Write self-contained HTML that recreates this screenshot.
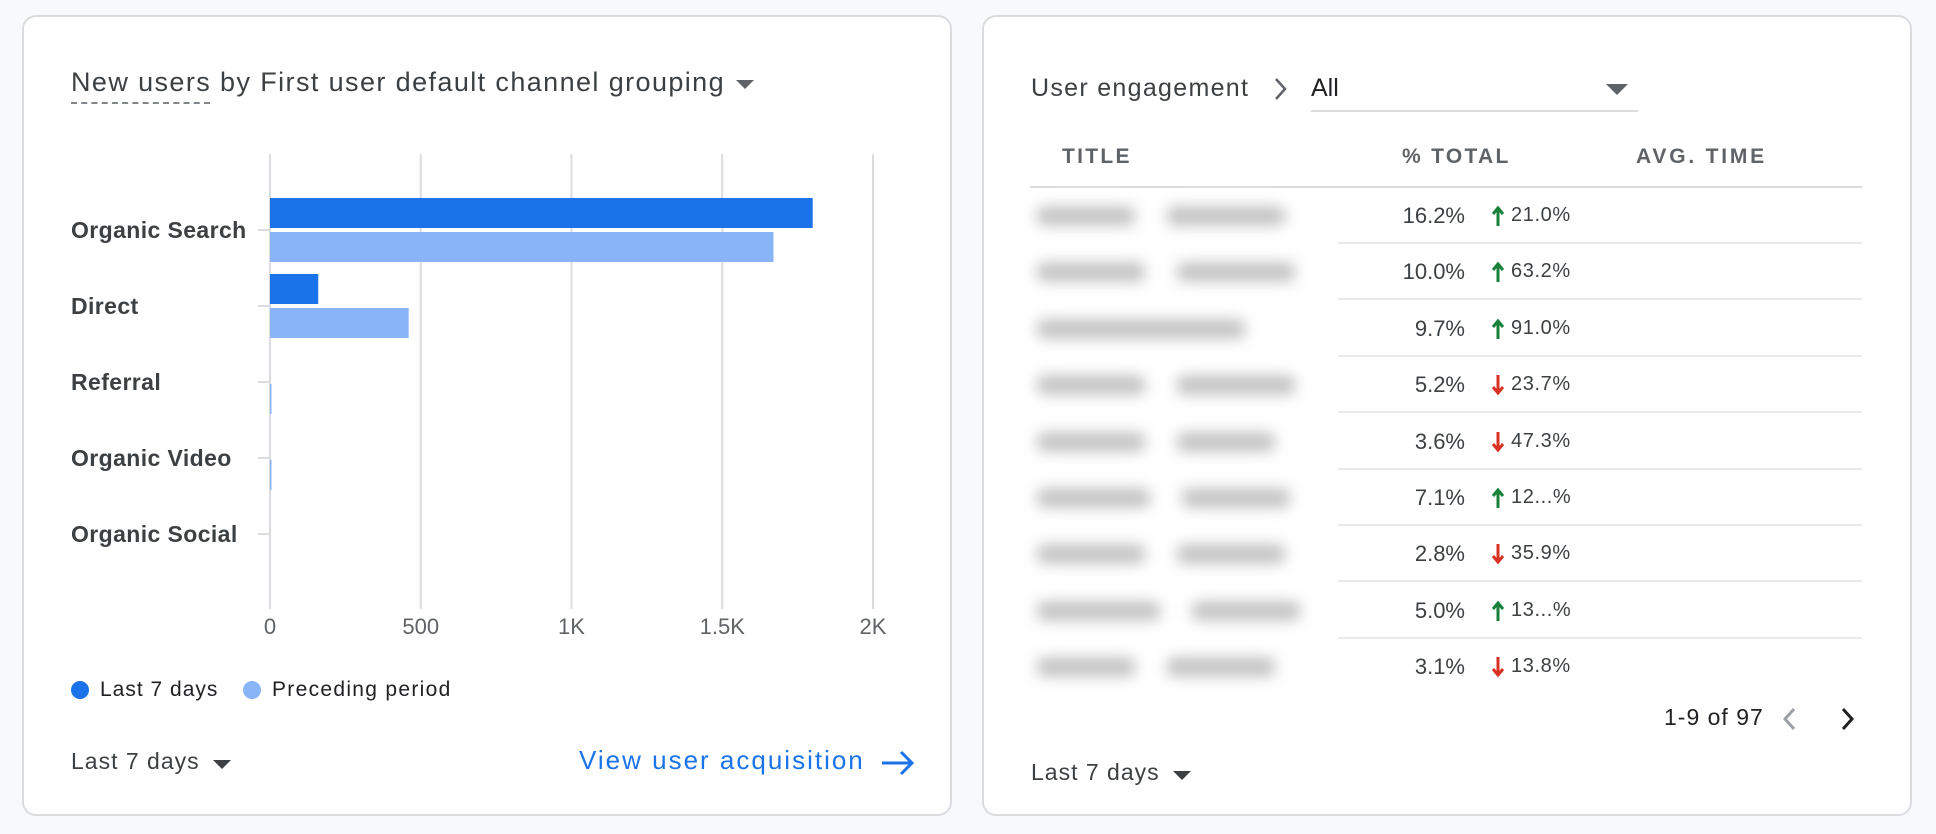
<!DOCTYPE html>
<html><head><meta charset="utf-8">
<style>
body{margin:0;width:1936px;height:834px;background:#f8f9fa;font-family:"Liberation Sans",sans-serif;position:relative;overflow:hidden;color:#3c4043}
.card{position:absolute;background:#fff;border:2px solid #dadce0;border-radius:14px;box-sizing:border-box}
.abs{position:absolute;white-space:nowrap}
.tri{position:absolute;width:0;height:0;border-left:9px solid transparent;border-right:9px solid transparent;border-top:9px solid #5f6368}
.blob{position:absolute;height:20px;background:#c4c4c4;filter:blur(7px);border-radius:10px}
.row-line{position:absolute;left:1338px;width:524px;height:2px;background:#e8eaed}
</style></head><body>
<div class="card" style="left:22px;top:15px;width:930px;height:801px"></div>
<div class="card" style="left:982px;top:15px;width:930px;height:801px"></div>

<div class="abs" style="left:71px;top:67px;font-size:27px;letter-spacing:1.4px;color:#3c4043">New users by First user default channel grouping</div>
<div class="abs" style="left:71px;top:102px;width:139px;border-top:2px dashed #80868b"></div>
<div class="tri" style="left:736px;top:80px;border-top-color:#5f6368"></div>

<svg id="chart" style="position:absolute;left:0;top:0" width="960" height="834"></svg>

<div class="abs" style="left:71px;top:678px;font-size:21px;letter-spacing:1px;color:#202124"><span style="display:inline-block;width:18px;height:18px;border-radius:50%;background:#1a73e8;vertical-align:-3px;margin-right:11px"></span>Last 7 days</div>
<div class="abs" style="left:243px;top:678px;font-size:21px;letter-spacing:1.3px;color:#202124"><span style="display:inline-block;width:18px;height:18px;border-radius:50%;background:#8ab4f8;vertical-align:-3px;margin-right:11px"></span>Preceding period</div>

<div class="abs" style="left:71px;top:748px;font-size:23px;letter-spacing:1px">Last 7 days</div>
<div class="tri" style="left:213px;top:760px;border-top-color:#3c4043"></div>
<div class="abs" style="left:579px;top:745px;font-size:26px;letter-spacing:2px;color:#1a73e8">View user acquisition</div>
<svg style="position:absolute;left:880px;top:749px" width="36" height="28"><path d="M2 14H32M21 3L32 14L21 25" stroke="#1a73e8" stroke-width="3" fill="none"/></svg>

<div class="abs" style="left:1031px;top:74px;font-size:25px;letter-spacing:1.3px">User engagement</div>
<svg style="position:absolute;left:1271px;top:76px" width="20" height="26"><path d="M5 3L14 13L5 23" stroke="#5f6368" stroke-width="2.5" fill="none"/></svg>
<div class="abs" style="left:1311px;top:74px;font-size:25px;color:#202124">All</div>
<div class="abs" style="left:1311px;top:110px;width:327px;height:2px;background:#dadce0"></div>
<div class="tri" style="left:1606px;top:84px;border-left-width:11px;border-right-width:11px;border-top-width:11px"></div>

<div class="abs" style="left:1062px;top:145px;font-size:21px;letter-spacing:2.3px;font-weight:bold;color:#5f6368">TITLE</div>
<div class="abs" style="left:1402px;top:145px;font-size:21px;letter-spacing:2.3px;font-weight:bold;color:#5f6368">% TOTAL</div>
<div class="abs" style="left:1636px;top:145px;font-size:21px;letter-spacing:2.8px;font-weight:bold;color:#5f6368">AVG. TIME</div>
<div class="abs" style="left:1030px;top:186px;width:832px;height:2px;background:#dadce0"></div>
<div id="rows"></div>

<div class="abs" style="left:1664px;top:704px;font-size:23px;letter-spacing:1px;color:#202124">1-9 of 97</div>
<svg style="position:absolute;left:1780px;top:705px" width="20" height="28"><path d="M14 4L5 14L14 24" stroke="#9aa0a6" stroke-width="3" fill="none"/></svg>
<svg style="position:absolute;left:1838px;top:705px" width="20" height="28"><path d="M5 4L14 14L5 24" stroke="#202124" stroke-width="3" fill="none"/></svg>
<div class="abs" style="left:1031px;top:759px;font-size:23px;letter-spacing:1px">Last 7 days</div>
<div class="tri" style="left:1173px;top:771px;border-top-color:#3c4043"></div>

<script>
const categories=["Organic Search","Direct","Referral","Organic Video","Organic Social"];
const last7=[1800,160,0,0,0];
const preceding=[1670,460,5,5,0];
const ticks=[0,500,1000,1500,2000];
const tickLabels=["0","500","1K","1.5K","2K"];
const NS="http://www.w3.org/2000/svg";
const svg=document.getElementById('chart');
const x0=270,x1=873,maxV=2000,yTop=154,yBot=609;
const xs=v=>x0+(x1-x0)*v/maxV;
const bandTop=192,band=76;
function mk(t,a){const e=document.createElementNS(NS,t);for(const k in a)e.setAttribute(k,a[k]);svg.appendChild(e);return e;}
ticks.forEach((t,i)=>{
  const l=mk('line',{x1:xs(t),x2:xs(t),y1:yTop,y2:yBot,stroke:'#dadce0','stroke-width':2});
  
  
  const tx=mk('text',{x:xs(t),y:634,'text-anchor':'middle','font-size':22,fill:'#5f6368','font-family':'Liberation Sans'});
  tx.textContent=tickLabels[i];
  
  
});
categories.forEach((c,i)=>{
  const cy=bandTop+band*i+38;
  const tm=mk('line',{x1:258,x2:270,y1:cy,y2:cy,stroke:'#dadce0','stroke-width':2});
  
  
  const t=mk('text',{x:71,y:cy+8,'font-size':23,'font-weight':'bold','letter-spacing':0.4,fill:'#3c4043','font-family':'Liberation Sans'});
  t.textContent=c;
  
  
  const b1=mk('rect',{x:x0,y:cy-32,width:Math.max(0,xs(last7[i])-x0),height:30,fill:'#1a73e8'});
  
  
  const b2=mk('rect',{x:x0,y:cy+2,width:Math.max(0,xs(preceding[i])-x0),height:30,fill:'#8ab4f8'});
  
  
});

const pct=["16.2%","10.0%","9.7%","5.2%","3.6%","7.1%","2.8%","5.0%","3.1%"];
const changes=["21.0%","63.2%","91.0%","23.7%","47.3%","12...%","35.9%","13...%","13.8%"];
const up=[true,true,true,false,false,true,false,true,false];
const blobW=[[100,120],[110,120],[210,0],[110,120],[110,100],[115,110],[110,110],[125,110],[100,110]];
const rows=document.getElementById('rows');
pct.forEach((p,i)=>{
  const cy=216+56.4*i;
  const b=blobW[i];
  const d1=document.createElement('div');d1.className='blob';
  
  
  d1.style.cssText=`left:1036px;top:${cy-10}px;width:${b[0]}px`;rows.appendChild(d1);
  if(b[1]){const d2=document.createElement('div');d2.className='blob';
  
  
  d2.style.cssText=`left:${1036+b[0]+30}px;top:${cy-10}px;width:${b[1]}px`;rows.appendChild(d2);}
  const v=document.createElement('div');v.className='abs';
  
  
  v.style.cssText=`right:${1936-1465}px;top:${cy-13}px;font-size:22px;color:#3c4043`;v.textContent=p;rows.appendChild(v);
  const a=document.createElementNS(NS,'svg');
  
  
  a.setAttribute('width','14');a.setAttribute('height','22');
  a.style.cssText=`position:absolute;left:1491px;top:${cy-11}px`;
  const col=up[i]?'#188038':'#d93025';
  a.innerHTML=up[i]?`<path d="M7 21V4M2 9L7 3L12 9" stroke="${col}" stroke-width="3" fill="none"/>`:`<path d="M7 1V18M2 13L7 19L12 13" stroke="${col}" stroke-width="3" fill="none"/>`;
  rows.appendChild(a);
  const c=document.createElement('div');c.className='abs';
  
  
  c.style.cssText=`left:1511px;top:${cy-12}px;font-size:20px;letter-spacing:0.6px;color:#3c4043`;c.textContent=changes[i];rows.appendChild(c);
  if(i<pct.length-1){const l=document.createElement('div');l.className='row-line';
  
  
  l.style.top=(cy+26)+'px';rows.appendChild(l);}
});
</script>
</body></html>
